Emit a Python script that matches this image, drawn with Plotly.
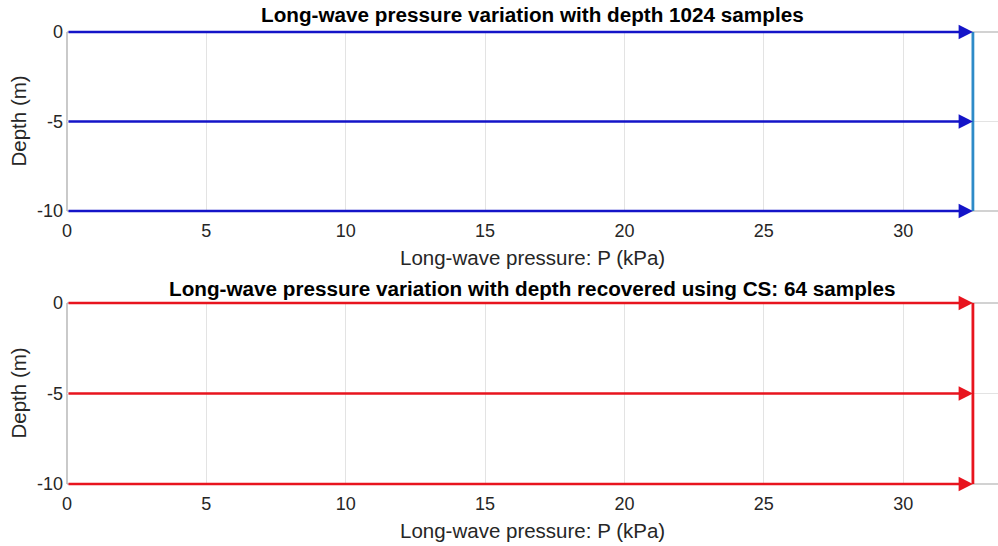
import plotly.graph_objects as go

# Data
depths = [0, -5, -10]
pressure_full = [32.5, 32.5, 32.5]   # 1024 samples (kPa)
pressure_cs = [32.5, 32.5, 32.5]     # CS recovered, 64 samples (kPa)
x_ticks = [0, 5, 10, 15, 20, 25, 30]
y_ticks = [0, -5, -10]
y_ticklabels = ["0", "-5", "-10"]
titles = ["Long-wave pressure variation with depth 1024 samples",
          "Long-wave pressure variation with depth recovered using CS: 64 samples"]
x_label = "Long-wave pressure: P (kPa)"
y_label = "Depth (m)"

W, H = 998, 546
FONT = "Liberation Sans, Arial, sans-serif"
TXT = "#262626"
X0 = 67  # left edge of axes (px)

fig = go.Figure()

panels = [
    dict(p=pressure_full, arrow="#1414c8", line="#2e8bc8", xa="x", ya="y",
         top=32, bot=211, title_y=14),
    dict(p=pressure_cs, arrow="#e8141e", line="#e8141e", xa="x2", ya="y2",
         top=303, bot=484, title_y=288),
]

annotations = []
shapes = []
for i, pn in enumerate(panels):
    pn["dom"] = [1 - pn["bot"] / H, 1 - pn["top"] / H]
    # vertical profile line
    fig.add_trace(go.Scatter(x=pn["p"], y=depths, mode="lines",
                             line=dict(color=pn["line"], width=2.8),
                             xaxis=pn["xa"], yaxis=pn["ya"], showlegend=False, hoverinfo="skip"))
    # arrows from 0 to P at each depth
    for d, pv in zip(depths, pn["p"]):
        annotations.append(dict(x=pv, y=d, ax=0, ay=d, xref=pn["xa"], yref=pn["ya"],
                                axref=pn["xa"], ayref=pn["ya"], text="", showarrow=True,
                                arrowhead=2, arrowsize=1.1, arrowwidth=2.6,
                                arrowcolor=pn["arrow"], standoff=0, startstandoff=0))
    # title
    annotations.append(dict(text="<b>" + titles[i] + "</b>", x=(X0 + 998) / 2 / W,
                            y=1 - pn["title_y"] / H,
                            xref="paper", yref="paper", showarrow=False,
                            xanchor="center", yanchor="middle",
                            font=dict(family=FONT, size=20.7, color="black")))
    # x label
    annotations.append(dict(text=x_label, x=(X0 + 998) / 2 / W, y=1 - (pn["bot"] + 46) / H,
                            xref="paper", yref="paper", showarrow=False,
                            xanchor="center", yanchor="middle",
                            font=dict(family=FONT, size=20.5, color=TXT)))
    # y label
    annotations.append(dict(text=y_label, x=18 / W, y=1 - (pn["top"] + pn["bot"]) / 2 / H,
                            xref="paper", yref="paper", showarrow=False, textangle=-90,
                            xanchor="center", yanchor="middle",
                            font=dict(family=FONT, size=20.5, color=TXT)))
    # box lines: left, bottom, top (right edge is outside the visible area)
    for (x0, y0, x1, y1) in [(0, 0, 0, 1), (0, 0, 1, 0), (0, 1, 1, 1)]:
        shapes.append(dict(type="line", xref=pn["xa"] + " domain", yref=pn["ya"] + " domain",
                           x0=x0, y0=y0, x1=x1, y1=y1,
                           line=dict(color="#a6a6a6", width=1.2), layer="below"))

axis_common = dict(showline=False, showgrid=True, gridcolor="#e3e3e3", gridwidth=1,
                   zeroline=False, ticks="", automargin=False,
                   tickfont=dict(family=FONT, size=18, color=TXT))

xcommon = dict(axis_common, range=[0, 33.4], tickvals=x_ticks, domain=[X0 / W, 1.0],
               ticklabelstandoff=7)
ycommon = dict(axis_common, range=[-10, 0], tickvals=y_ticks, ticktext=y_ticklabels,
               ticklabelstandoff=3)

fig.update_layout(
    width=W, height=H,
    margin=dict(l=0, r=0, t=0, b=0, autoexpand=False),
    paper_bgcolor="white", plot_bgcolor="white",
    xaxis=dict(xcommon, anchor="y"),
    yaxis=dict(ycommon, domain=panels[0]["dom"], anchor="x"),
    xaxis2=dict(xcommon, anchor="y2"),
    yaxis2=dict(ycommon, domain=panels[1]["dom"], anchor="x2"),
    annotations=annotations,
    shapes=shapes,
    showlegend=False,
)

fig.write_html("out.html")
